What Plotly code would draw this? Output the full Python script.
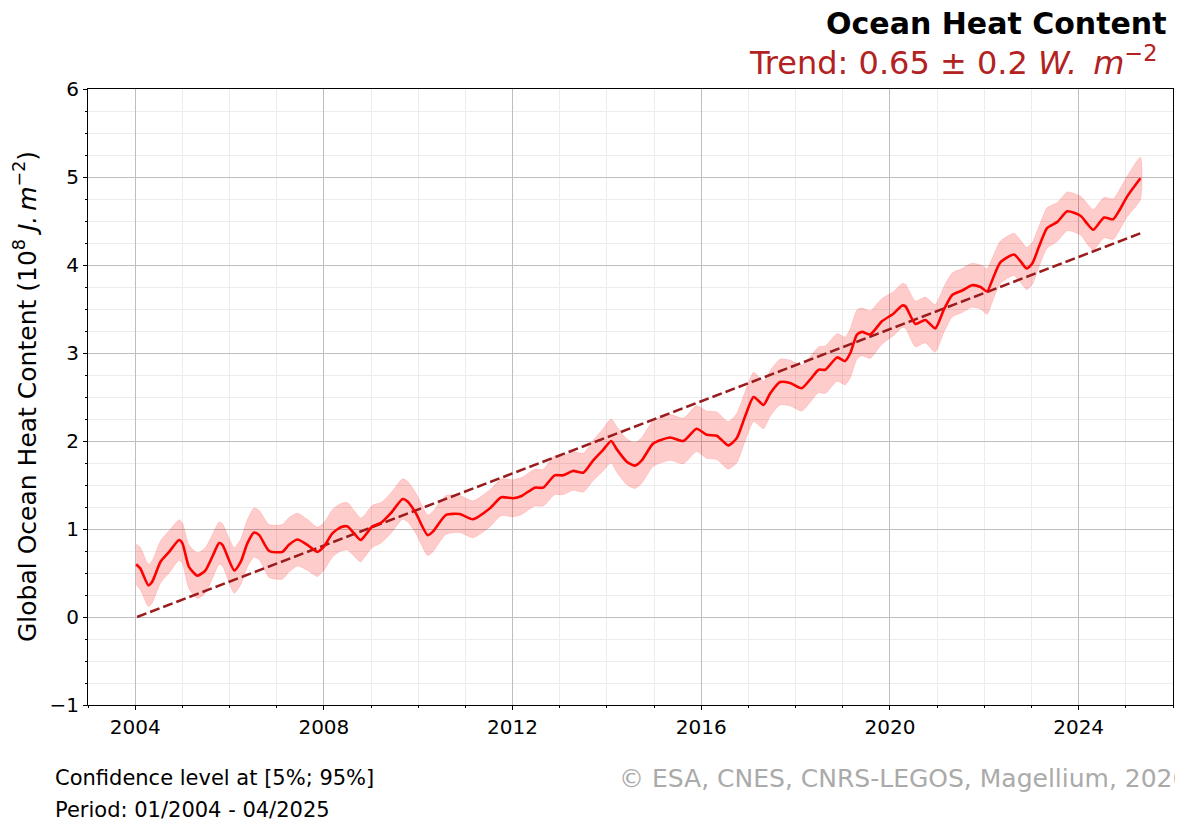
import plotly.graph_objects as go

# ---- data ----
years = [
    2004.02, 2004.11, 2004.28, 2004.36, 2004.54, 2004.72, 2004.93, 2005.00, 2005.14, 2005.32,
    2005.49, 2005.64, 2005.78, 2005.85, 2006.10, 2006.24, 2006.38, 2006.52, 2006.63, 2006.84,
    2007.12, 2007.26, 2007.44, 2007.65, 2007.86, 2008.00, 2008.18, 2008.36, 2008.50, 2008.64,
    2008.78, 2008.85, 2009.03, 2009.21, 2009.42, 2009.67, 2009.78, 2009.95, 2010.20, 2010.31,
    2010.59, 2010.88, 2011.16, 2011.52, 2011.76, 2012.01, 2012.19, 2012.47, 2012.65, 2012.89,
    2013.07, 2013.28, 2013.50, 2013.71, 2013.92, 2014.09, 2014.21, 2014.42, 2014.59, 2014.74,
    2014.98, 2015.34, 2015.62, 2015.90, 2016.12, 2016.33, 2016.57, 2016.75, 2016.93, 2017.11,
    2017.32, 2017.46, 2017.67, 2017.88, 2018.13, 2018.31, 2018.49, 2018.63, 2018.88, 2019.05,
    2019.16, 2019.30, 2019.41, 2019.58, 2019.83, 2020.08, 2020.26, 2020.33, 2020.54, 2020.75,
    2020.96, 2021.14, 2021.32, 2021.53, 2021.74, 2021.92, 2022.06, 2022.17, 2022.34, 2022.63,
    2022.77, 2022.90, 2023.02, 2023.16, 2023.33, 2023.55, 2023.76, 2024.04, 2024.18, 2024.31,
    2024.54, 2024.73, 2024.85, 2025.03, 2025.31,
]

ohc = [
    0.60, 0.55, 0.36, 0.40, 0.63, 0.74, 0.875, 0.84, 0.57, 0.47,
    0.53, 0.69, 0.84, 0.82, 0.53, 0.63, 0.84, 0.96, 0.93, 0.75,
    0.74, 0.82, 0.88, 0.82, 0.74, 0.80, 0.95, 1.02, 1.03, 0.95,
    0.875, 0.91, 1.03, 1.07, 1.18, 1.34, 1.31, 1.18, 0.93, 0.97,
    1.16, 1.17, 1.11, 1.235, 1.36, 1.35, 1.375, 1.47, 1.47, 1.61,
    1.61, 1.66, 1.64, 1.78, 1.90, 2.00, 1.905, 1.765, 1.72, 1.78,
    1.97, 2.04, 2.00, 2.14, 2.07, 2.06, 1.95, 2.03, 2.28, 2.50,
    2.41, 2.54, 2.67, 2.66, 2.60, 2.70, 2.81, 2.81, 2.95, 2.91,
    3.00, 3.21, 3.24, 3.21, 3.36, 3.45, 3.54, 3.53, 3.33, 3.375,
    3.28, 3.49, 3.66, 3.71, 3.77, 3.75, 3.70, 3.83, 4.03, 4.12,
    4.04, 3.96, 4.02, 4.21, 4.42, 4.49, 4.61, 4.56, 4.47, 4.40,
    4.54, 4.52, 4.61, 4.78, 4.985,
]

# half-width of the 5%-95% confidence band
ci_half = [
    0.23, 0.24, 0.24, 0.24, 0.24, 0.24, 0.23, 0.23, 0.25, 0.26,
    0.26, 0.25, 0.24, 0.24, 0.26, 0.26, 0.27, 0.28, 0.28, 0.30,
    0.31, 0.31, 0.30, 0.29, 0.28, 0.27, 0.27, 0.27, 0.27, 0.26,
    0.25, 0.24, 0.24, 0.23, 0.23, 0.23, 0.23, 0.23, 0.23, 0.23,
    0.22, 0.21, 0.21, 0.21, 0.21, 0.21, 0.21, 0.21, 0.21, 0.22,
    0.22, 0.22, 0.22, 0.23, 0.24, 0.25, 0.26, 0.26, 0.26, 0.26,
    0.26, 0.26, 0.26, 0.26, 0.27, 0.27, 0.27, 0.28, 0.28, 0.28,
    0.27, 0.26, 0.26, 0.26, 0.26, 0.26, 0.26, 0.27, 0.27, 0.27,
    0.28, 0.28, 0.27, 0.27, 0.26, 0.25, 0.25, 0.25, 0.26, 0.26,
    0.27, 0.26, 0.25, 0.25, 0.25, 0.25, 0.26, 0.25, 0.24, 0.24,
    0.24, 0.24, 0.24, 0.23, 0.23, 0.22, 0.22, 0.22, 0.23, 0.23,
    0.23, 0.23, 0.23, 0.23, 0.24,
]

trend_years = [2004.04, 2025.31]
trend_values = [0.0, 4.36]

x_tickvals = [2004, 2008, 2012, 2016, 2020, 2024]
y_tickvals = [-1, 0, 1, 2, 3, 4, 5, 6]

FONT = "DejaVu Sans"

upper = [v + e for v, e in zip(ohc, ci_half)]
lower = [v - e for v, e in zip(ohc, ci_half)]

fig = go.Figure()

fig.add_trace(go.Scatter(
    x=years + years[::-1],
    y=upper + lower[::-1],
    fill="toself",
    fillcolor="rgba(255,0,0,0.2)",
    line=dict(color="rgba(255,0,0,0.12)", width=1, shape="spline", smoothing=0.6),
    mode="lines",
    hoverinfo="skip",
    showlegend=False,
))

fig.add_trace(go.Scatter(
    x=trend_years, y=trend_values,
    mode="lines",
    line=dict(color="#9b1c1c", width=2.5, dash="10px,4px"),
    showlegend=False,
))

fig.add_trace(go.Scatter(
    x=years, y=ohc,
    mode="lines",
    line=dict(color="#ff0000", width=2.6, shape="spline", smoothing=0.6),
    showlegend=False,
))

# the page body has an 8px margin, so figure coords = page coords - 8
OFF = 8
W, H = 1167, 815
L = 88 - OFF          # plot left edge at page x=88
T = 89 - OFF          # plot top at page y=89
R = W - (1173 - OFF)  # plot right at page x=1173
B = H - (705 - OFF)   # plot bottom at page y=705
pw = W - L - R
ph = H - T - B


def px_x(p):
    return (p - OFF - L) / pw


def px_y(p):
    return (H - B - (p - OFF)) / ph


annotations = [
    dict(text="<b>Ocean Heat Content</b>", x=px_x(1169), y=px_y(24),
         xanchor="right", yanchor="middle", font=dict(size=30, color="black")),
    dict(text="Trend: 0.65 ± 0.2 <i>W.\u2002m</i><sup>−2</sup>", x=px_x(1159), y=px_y(61),
         xanchor="right", yanchor="middle", font=dict(size=32, color="#b22222")),
    dict(text="Confidence level at [5%; 95%]", x=px_x(53), y=px_y(778),
         xanchor="left", yanchor="middle", font=dict(size=21, color="black")),
    dict(text="Period: 01/2004 - 04/2025", x=px_x(53), y=px_y(810),
         xanchor="left", yanchor="middle", font=dict(size=21, color="black")),
    dict(text="© ESA, CNES, CNRS-LEGOS, Magellium, 2026", x=px_x(617), y=px_y(778),
         xanchor="left", yanchor="middle", font=dict(size=25, color="#aaaaaa")),
    dict(text="Global Ocean Heat Content (10<sup>8</sup> <i>J.\u2009m</i><sup>−2</sup>)",
         x=px_x(25), y=px_y(397), textangle=-90,
         xanchor="center", yanchor="middle", font=dict(size=25, color="black")),
]
for a in annotations:
    a.update(xref="paper", yref="paper", showarrow=False)

fig.update_layout(
    width=W, height=H, autosize=False,
    margin=dict(l=L, r=R, t=T, b=B, pad=0),
    paper_bgcolor="white", plot_bgcolor="white",
    font=dict(family=FONT, color="black"),
    annotations=annotations,
    showlegend=False,
)

fig.update_xaxes(
    range=[2003, 2026], tickvals=x_tickvals, ticktext=[str(v) for v in x_tickvals],
    tickfont=dict(size=20), ticks="outside", ticklen=4, tickwidth=1, tickcolor="black",
    showline=True, mirror=True, linecolor="black", linewidth=1,
    showgrid=True, gridcolor="#bdbdbd", gridwidth=1, zeroline=False,
    minor=dict(dtick=1, tick0=2004, ticks="outside", ticklen=2, tickcolor="black",
               showgrid=True, gridcolor="#ececec", gridwidth=1),
)

fig.update_yaxes(
    range=[-1, 6], tickvals=y_tickvals, ticktext=["−1"] + [str(v) for v in y_tickvals[1:]],
    tickfont=dict(size=20), ticks="outside", ticklen=4, tickwidth=1, tickcolor="black",
    showline=True, mirror=True, linecolor="black", linewidth=1,
    showgrid=True, gridcolor="#bdbdbd", gridwidth=1, zeroline=False,
    minor=dict(dtick=0.25, tick0=0, ticks="outside", ticklen=2, tickcolor="black",
               showgrid=True, gridcolor="#ececec", gridwidth=1),
)

fig.write_html("out.html")
